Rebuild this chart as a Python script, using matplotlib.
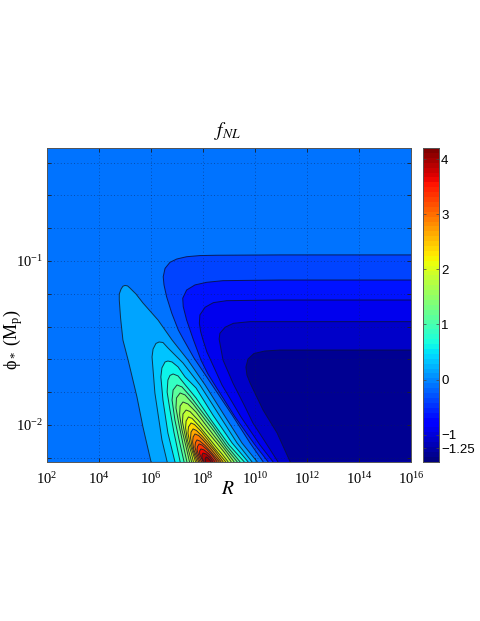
import numpy as np
import matplotlib
matplotlib.use("Agg")
import matplotlib.pyplot as plt

plt.rcParams["mathtext.fontset"] = "stix"
plt.rcParams["font.family"] = ["Liberation Serif", "DejaVu Serif"]

# axis ranges, in log10
R_MIN, R_MAX = 2, 16
PHI_MIN, PHI_MAX = -2.224, -0.311
C_MIN, C_MAX = -1.49, 4.2

x_ticks = [2, 4, 6, 8, 10, 12, 14, 16]
y_major = [-2, -1]
y_minor = [-2.2, -1.8, -1.6, -1.4, -1.2, -0.8, -0.6, -0.4]
cbar_ticks = [-1.25, -1, 0, 1, 2, 3, 4]
cbar_labels = ["\u22121.25", "\u22121", "0", "1", "2", "3", "4"]

# fNL of the region around the plateau
background_level = -0.125

# plateau contours, log10 R and log10 phi
p025_r = [16, 10.96, 8.53, 7.88, 7.37, 6.99, 6.73, 6.54, 6.47, 6.5, 6.6, 6.8, 7.05, 7.24, 7.65, 8.35, 9.12, 9.81, 10.31]
p025_phi = [-0.963, -0.963, -0.965, -0.967, -0.974, -0.988, -1.008, -1.045, -1.096, -1.146, -1.218, -1.319, -1.421, -1.476, -1.591, -1.756, -1.939, -2.11, -2.224]
p050_r = [16, 10.96, 8.77, 8.14, 7.69, 7.37, 7.22, 7.24, 7.37, 7.62, 7.92, 8.19, 8.5, 9.23, 10.0, 10.5]
p050_phi = [-1.116, -1.116, -1.12, -1.13, -1.146, -1.177, -1.227, -1.279, -1.36, -1.476, -1.604, -1.689, -1.768, -1.951, -2.122, -2.224]
p075_r = [16, 10.96, 8.91, 8.4, 8.08, 7.88, 7.86, 7.91, 7.99, 8.15, 8.38, 8.73, 9.46, 10.19, 10.69]
p075_phi = [-1.238, -1.238, -1.242, -1.254, -1.282, -1.329, -1.38, -1.431, -1.476, -1.555, -1.634, -1.756, -1.951, -2.122, -2.224]
p100_r = [16, 9.81, 9.17, 8.85, 8.65, 8.62, 8.77, 9.15, 9.62, 9.92, 10.42, 10.88]
p100_phi = [-1.37, -1.37, -1.38, -1.404, -1.441, -1.476, -1.604, -1.744, -1.89, -1.988, -2.11, -2.224]
p125_r = [16, 10.96, 10.38, 9.96, 9.73, 9.65, 9.69, 9.81, 10.31, 10.85, 11.35]
p125_phi = [-1.543, -1.543, -1.549, -1.564, -1.598, -1.647, -1.696, -1.744, -1.909, -2.049, -2.224]

# lobe contours, closed along the bottom axis
l000_r = [6.0, 5.69, 5.46, 5.12, 4.92, 4.83, 4.78, 4.78, 4.85, 4.92, 5.0, 5.1, 5.19, 5.42, 5.69, 6.27, 6.81, 7.42, 8.08, 8.81, 9.5, 10.08]
l000_phi = [-2.224, -2.012, -1.829, -1.604, -1.482, -1.348, -1.238, -1.201, -1.171, -1.154, -1.149, -1.152, -1.165, -1.201, -1.256, -1.36, -1.482, -1.604, -1.756, -1.939, -2.11, -2.224]
l025_r = [6.62, 6.42, 6.15, 6.04, 6.08, 6.19, 6.31, 6.46, 6.65, 7.23, 7.88, 8.62, 9.31, 9.88]
l025_phi = [-2.224, -2.091, -1.805, -1.585, -1.537, -1.503, -1.494, -1.497, -1.53, -1.622, -1.756, -1.939, -2.11, -2.224]
l050_r = [6.92, 6.65, 6.46, 6.38, 6.42, 6.54, 6.65, 6.81, 7.04, 7.31, 7.73, 8.38, 9.12, 9.73]
l050_phi = [-2.224, -2.049, -1.848, -1.707, -1.652, -1.616, -1.61, -1.616, -1.646, -1.707, -1.774, -1.939, -2.11, -2.224]
l075_r = [7.12, 6.88, 6.73, 6.62, 6.65, 6.73, 6.85, 7.04, 7.35, 7.73, 8.31, 9.0, 9.58]
l075_phi = [-2.224, -2.043, -1.909, -1.799, -1.726, -1.698, -1.689, -1.701, -1.762, -1.835, -1.97, -2.122, -2.224]
l100_r = [7.27, 7.08, 6.92, 6.81, 6.85, 7.0, 7.19, 7.5, 7.88, 8.38, 8.92, 9.42]
l100_phi = [-2.224, -2.091, -1.97, -1.848, -1.787, -1.756, -1.768, -1.823, -1.902, -2.006, -2.128, -2.224]
l125_r = [7.38, 7.23, 7.08, 6.96, 6.98, 7.12, 7.31, 7.62, 8.0, 8.42, 8.88, 9.31]
l125_phi = [-2.224, -2.116, -2.0, -1.896, -1.835, -1.805, -1.817, -1.872, -1.951, -2.037, -2.14, -2.224]
l150_r = [7.48, 7.35, 7.19, 7.1, 7.12, 7.23, 7.42, 7.73, 8.08, 8.46, 8.85, 9.19]
l150_phi = [-2.224, -2.134, -2.03, -1.939, -1.884, -1.86, -1.872, -1.921, -1.994, -2.073, -2.152, -2.224]
l175_r = [7.56, 7.44, 7.31, 7.21, 7.23, 7.35, 7.5, 7.81, 8.15, 8.5, 8.81, 9.08]
l175_phi = [-2.224, -2.152, -2.061, -1.982, -1.933, -1.909, -1.918, -1.97, -2.037, -2.104, -2.165, -2.224]
l200_r = [7.63, 7.54, 7.4, 7.33, 7.35, 7.44, 7.58, 7.85, 8.19, 8.5, 8.73, 8.96]
l200_phi = [-2.224, -2.165, -2.091, -2.018, -1.976, -1.951, -1.96, -2.006, -2.073, -2.134, -2.177, -2.224]
l225_r = [7.71, 7.62, 7.5, 7.42, 7.44, 7.54, 7.67, 7.92, 8.19, 8.46, 8.87]
l225_phi = [-2.224, -2.177, -2.116, -2.049, -2.012, -1.988, -1.997, -2.037, -2.091, -2.146, -2.224]
l250_r = [7.77, 7.69, 7.58, 7.52, 7.54, 7.62, 7.75, 7.96, 8.23, 8.46, 8.77]
l250_phi = [-2.224, -2.189, -2.134, -2.079, -2.043, -2.024, -2.034, -2.067, -2.116, -2.159, -2.224]
l275_r = [7.83, 7.65, 7.6, 7.62, 7.69, 7.83, 8.04, 8.27, 8.46, 8.69]
l275_phi = [-2.224, -2.152, -2.104, -2.073, -2.055, -2.064, -2.098, -2.14, -2.177, -2.224]
l300_r = [7.88, 7.75, 7.69, 7.71, 7.77, 7.88, 8.08, 8.31, 8.62]
l300_phi = [-2.224, -2.171, -2.134, -2.107, -2.091, -2.098, -2.125, -2.165, -2.224]
l325_r = [7.94, 7.83, 7.77, 7.79, 7.85, 7.96, 8.15, 8.35, 8.54]
l325_phi = [-2.224, -2.183, -2.152, -2.131, -2.116, -2.122, -2.149, -2.183, -2.224]
l350_r = [8.0, 7.87, 7.87, 7.92, 8.04, 8.23, 8.46]
l350_phi = [-2.224, -2.177, -2.159, -2.146, -2.152, -2.177, -2.224]
l375_r = [8.04, 7.96, 7.96, 8.0, 8.12, 8.27, 8.38]
l375_phi = [-2.224, -2.201, -2.183, -2.171, -2.177, -2.198, -2.224]
l400_r = [8.1, 8.08, 8.12, 8.19, 8.31]
l400_phi = [-2.224, -2.207, -2.195, -2.201, -2.224]

# (colour level of the inside, r, phi)
plateaus = [
    (-0.375, p025_r, p025_phi),
    (-0.625, p050_r, p050_phi),
    (-0.875, p075_r, p075_phi),
    (-1.125, p100_r, p100_phi),
    (-1.35, p125_r, p125_phi),
]
lobes = [
    (0.125, l000_r, l000_phi),
    (0.375, l025_r, l025_phi),
    (0.625, l050_r, l050_phi),
    (0.875, l075_r, l075_phi),
    (1.125, l100_r, l100_phi),
    (1.375, l125_r, l125_phi),
    (1.625, l150_r, l150_phi),
    (1.875, l175_r, l175_phi),
    (2.125, l200_r, l200_phi),
    (2.375, l225_r, l225_phi),
    (2.625, l250_r, l250_phi),
    (2.875, l275_r, l275_phi),
    (3.125, l300_r, l300_phi),
    (3.375, l325_r, l325_phi),
    (3.625, l350_r, l350_phi),
    (3.875, l375_r, l375_phi),
    (4.1, l400_r, l400_phi),
]

W, H = 480, 621
fig = plt.figure(figsize=(W / 100, H / 100), dpi=100)
ax = fig.add_axes([47 / W, 1 - 461.7 / H, 364 / W, 313.7 / H])
cax = fig.add_axes([422.7 / W, 1 - 461.7 / H, 16.3 / W, 313.7 / H])

cmap = plt.get_cmap("jet", 64)
norm = plt.Normalize(C_MIN, C_MAX)

ax.set_xscale("log")
ax.set_yscale("log")
ax.set_xlim(10.0**R_MIN, 10.0**R_MAX)
ax.set_ylim(10.0**PHI_MIN, 10.0**PHI_MAX)
ax.set_facecolor(cmap(norm(background_level)))

for level, r, phi in plateaus:
    rr = 10.0 ** np.array(r)
    pp = 10.0 ** np.array(phi)
    ax.fill(np.append(rr, 10.0**R_MAX), np.append(pp, 10.0**PHI_MIN), color=cmap(norm(level)), lw=0, zorder=1)
    ax.plot(rr, pp, color="#0a1040", lw=0.7, alpha=0.85, zorder=2)

for level, r, phi in lobes:
    rr = 10.0 ** np.array(r)
    pp = 10.0 ** np.array(phi)
    ax.fill(rr, pp, color=cmap(norm(level)), lw=0, zorder=3)
    ax.plot(rr, pp, color="#10202c", lw=0.7, alpha=0.85, zorder=4)

# ticks and dotted grid
ax.set_xticks(10.0 ** np.array(x_ticks))
ax.set_xticklabels(["$\\mathregular{10^{%d}}$" % t for t in x_ticks], fontsize=10.5)
ax.set_yticks(10.0 ** np.array(y_major))
ax.set_yticklabels(["$\\mathregular{10^{%d}}$" % t for t in y_major], fontsize=10.5)
ax.set_yticks(10.0 ** np.array(y_minor), minor=True)
ax.set_yticklabels([], minor=True)
ax.xaxis.set_minor_locator(matplotlib.ticker.NullLocator())
ax.tick_params(axis="both", which="both", direction="in", length=3, width=0.6, color="#222222", top=True, right=True, zorder=6)
ax.tick_params(axis="x", which="major", pad=7)
ax.tick_params(axis="y", which="major", pad=3)
ax.set_axisbelow(False)
ax.grid(True, which="both", linestyle=(0, (1, 3)), linewidth=0.6, color="#10204a", alpha=0.6, zorder=5)
for s in ax.spines.values():
    s.set_linewidth(0.7)
    s.set_color("#555555")
    s.set_zorder(7)

fig.text(228 / W, 1 - 131 / H, "$f_{NL}$", fontsize=14, ha="center", va="center")
fig.text(228 / W, 1 - 489 / H, "$R$", fontsize=14, ha="center", va="center")
fig.text(13 / W, 1 - 340 / H, "$\\mathregular{\\phi_*\\ (M_p)}$", fontsize=13, rotation=90, ha="center", va="center")

# colorbar
cb_vals = np.linspace(C_MIN, C_MAX, 65)
cax.pcolormesh([0, 1], cb_vals, ((cb_vals[:-1] + cb_vals[1:]) / 2)[:, None], cmap=cmap, norm=norm)
cax.set_xticks([])
cax.yaxis.tick_right()
cax.set_yticks(cbar_ticks)
cax.set_yticklabels(cbar_labels, family=["Liberation Sans"], fontsize=9.5)
cax.tick_params(axis="y", direction="in", length=2.5, width=0.5, color="#444444", pad=1.5, left=True, right=True)
for s in cax.spines.values():
    s.set_linewidth(0.7)
    s.set_color("#555555")

fig.savefig("out.png", dpi=100)
